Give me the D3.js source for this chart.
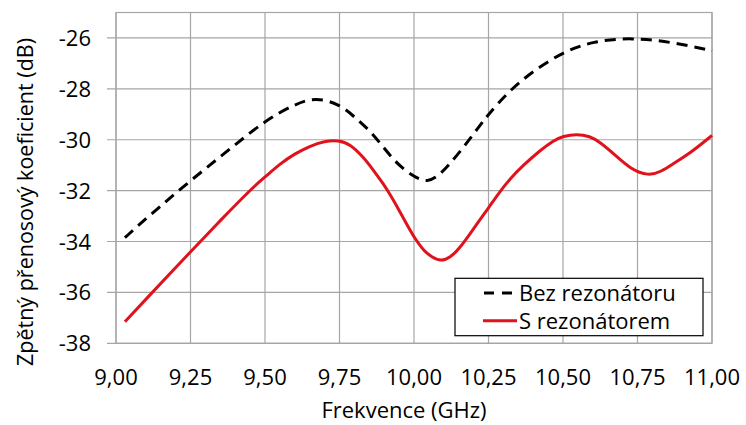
<!DOCTYPE html>
<html><head><meta charset="utf-8">
<script src="https://cdn.jsdelivr.net/npm/d3@7"></script>
<style>body{margin:0;background:#fff}svg{display:block}text{font-family:"Open Sans",sans-serif;fill:#000}</style>
</head><body><svg id="c" width="746" height="425"></svg>
<script>
const freqBez = [9.03,9.10,9.25,9.40,9.50,9.60,9.67,9.75,9.80,9.852,9.897,9.942,10.00,10.045,10.087,10.154,10.221,10.25,10.32,10.40,10.50,10.60,10.73,10.87,11.00];
const valBez  = [-33.85,-33.1,-31.6,-30.2,-29.25,-28.6,-28.33,-28.6,-29.1,-29.64,-30.29,-30.94,-31.47,-31.68,-31.4,-30.49,-29.44,-29.0,-28.07,-27.3,-26.55,-26.13,-25.98,-26.17,-26.5];
const freqS = [9.03,9.10,9.25,9.35,9.46,9.50,9.55,9.60,9.65,9.70,9.746,9.785,9.83,9.864,9.897,9.925,9.953,9.981,10.003,10.031,10.06,10.09,10.121,10.154,10.188,10.221,10.25,10.283,10.322,10.367,10.423,10.468,10.50,10.546,10.59,10.624,10.675,10.725,10.787,10.83,10.87,10.93,11.00];
const valS  = [-37.15,-36.27,-34.41,-33.17,-31.86,-31.47,-30.95,-30.55,-30.25,-30.05,-30.02,-30.16,-30.68,-31.2,-31.73,-32.25,-32.84,-33.43,-33.88,-34.34,-34.62,-34.78,-34.64,-34.25,-33.7,-33.15,-32.68,-32.12,-31.53,-31.0,-30.42,-30.03,-29.86,-29.77,-29.86,-30.09,-30.6,-31.14,-31.43,-31.25,-30.94,-30.5,-29.83];
const xTicks = [9.00,9.25,9.50,9.75,10.00,10.25,10.50,10.75,11.00];
const yTicks = [-26,-28,-30,-32,-34,-36,-38];
const seriesNames = ["Bez rezonátoru","S rezonátorem"];
const xTitle = "Frekvence (GHz)";
const yTitle = "Zpětný přenosový koeficient (dB)";

const svg = d3.select("#c");
const L=116, R=712, T=12.5, B=343.3;
const x = d3.scaleLinear().domain([9,11]).range([L,R]);
const y = d3.scaleLinear().domain([-38,-25]).range([B,T]);
const grid = "#a6a6a6";

svg.append("g").selectAll("line").data(xTicks).join("line")
  .attr("x1",d=>x(d)).attr("x2",d=>x(d)).attr("y1",T).attr("y2",B)
  .attr("stroke",grid).attr("stroke-width",1.2);
svg.append("g").selectAll("line").data(yTicks).join("line")
  .attr("x1",L-9).attr("x2",R).attr("y1",d=>y(d)).attr("y2",d=>y(d))
  .attr("stroke",grid).attr("stroke-width",1.2);
svg.append("rect").attr("x",L).attr("y",T).attr("width",R-L).attr("height",B-T)
  .attr("fill","none").attr("stroke",grid).attr("stroke-width",1.2);

const fmt = d=>d3.format(".2f")(d).replace(".",",");
svg.append("g").selectAll("text").data(xTicks).join("text")
  .attr("x",d=>x(d)).attr("y",385).attr("text-anchor","middle")
  .style("font-size","22px").text(fmt);
svg.append("g").selectAll("text").data(yTicks).join("text")
  .attr("x",91).attr("y",d=>y(d)+8).attr("text-anchor","end")
  .style("font-size","22px").text(d=>d);

svg.append("text").attr("x",404).attr("y",418).attr("text-anchor","middle")
  .style("font-size","22px").text(xTitle);
svg.append("text").attr("transform","translate(33,202) rotate(-90)").attr("text-anchor","middle")
  .style("font-size","21.5px").text(yTitle);

const line = d3.line().x(d=>x(d[0])).y(d=>y(d[1])).curve(d3.curveBasis);
svg.append("path").datum(d3.zip(freqBez,valBez)).attr("d",line)
  .attr("fill","none").attr("stroke","#000").attr("stroke-width",3).attr("stroke-dasharray","11,7");
svg.append("path").datum(d3.zip(freqS,valS)).attr("d",line)
  .attr("fill","none").attr("stroke","#e0121b").attr("stroke-width",3);

const lg = svg.append("g");
lg.append("rect").attr("x",455).attr("y",278.3).attr("width",248).attr("height",57.4)
  .attr("fill","#fff").attr("stroke","#000").attr("stroke-width",1.2);
const ly=[293,320.7];
lg.append("line").attr("x1",484).attr("x2",516).attr("y1",ly[0]).attr("y2",ly[0])
  .attr("stroke","#000").attr("stroke-width",3).attr("stroke-dasharray","10,8");
lg.append("line").attr("x1",483).attr("x2",517).attr("y1",ly[1]).attr("y2",ly[1])
  .attr("stroke","#e0121b").attr("stroke-width",3);
lg.selectAll("text.l").data(seriesNames).join("text").attr("class","l")
  .attr("x",519).attr("y",(d,i)=>ly[i]+8).style("font-size","22px").text(d=>d);
</script></body></html>
